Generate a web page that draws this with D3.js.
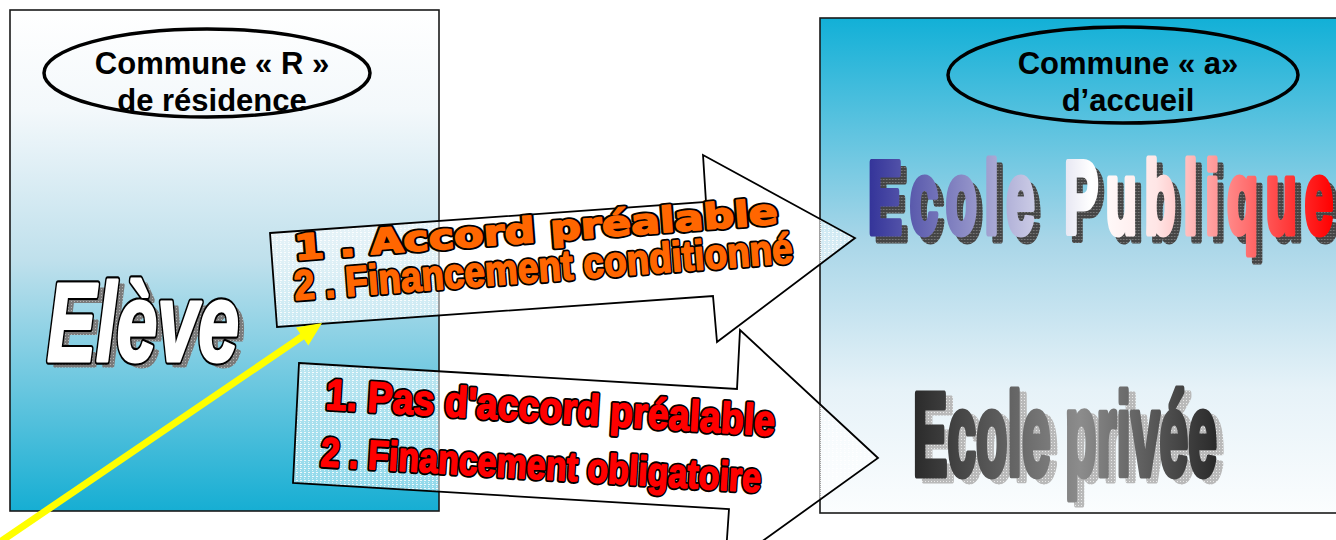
<!DOCTYPE html>
<html>
<head>
<meta charset="utf-8">
<script src="https://cdn.jsdelivr.net/npm/d3@7"></script>
<style>
  body { margin: 0; background: #fff; overflow: hidden; }
</style>
</head>
<body>
<div id="chart"></div>
<script>
// --- diagram content ---
const boxes = [
  { id: "left",  x: 10,  y: 10, w: 429, h: 501, stops: [[0, "#ffffff"], [0.2, "#f3f8fb"], [0.5, "#bfe0ec"], [1, "#16aed3"]] },
  { id: "right", x: 820, y: 18, w: 540, h: 495, stops: [[0, "#12b0d7"], [0.45, "#a9d6e8"], [0.75, "#e6f2f8"], [1, "#fbfdfe"]] }
];

const ellipses = [
  { cx: 207,  cy: 73, rx: 163, ry: 44, tx: 212,  lines: ["Commune « R »", "de résidence"] },
  { cx: 1123, cy: 75, rx: 175, ry: 48, tx: 1128, lines: ["Commune « a»", "d’accueil"] }
];
const ellipseBaselines = [74, 111];

// block arrows (outline points)
const arrowUp   = [[270, 233], [706, 202], [703, 155], [855, 238], [717, 342], [713, 296], [277, 327]];
const arrowDown = [[299, 363], [737, 389], [740, 330], [878, 458], [725, 568], [729, 509], [293, 483]];

const arrowTexts = [
  { x: 295, y: 260, angle: -4.3, text: "1 . Accord préalable",        len: 485, font: "DejaVu Sans",     size: 35, fill: "#ff6600" },
  { x: 295, y: 300, angle: -4.3, text: "2 . Financement conditionné", len: 500, font: "Liberation Sans", size: 42, fill: "#ff6600" },
  { x: 325, y: 409, angle: 3.4,  text: "1. Pas d'accord préalable",   len: 450, font: "Liberation Sans", size: 43, fill: "#ff0000" },
  { x: 320, y: 466, angle: 3.4,  text: "2 . Financement obligatoire", len: 441, font: "Liberation Sans", size: 41, fill: "#ff0000" }
];

const yellowStart = [-6, 546];
const yellowTip = [322, 323];

const publicStops = [[0, "#333399"], [0.48, "#ffffff"], [0.62, "#ffe6e6"], [1, "#ff0000"]];
const priveeStops = [[0, "#2a2a2a"], [0.55, "#8c8c8c"], [1, "#2a2a2a"]];

// --- drawing ---
const width = 1336, height = 540;
const svg = d3.select("#chart").append("svg")
  .attr("width", width)
  .attr("height", height);

const defs = svg.append("defs");

function addGradient(id, stops, vertical) {
  const g = defs.append("linearGradient").attr("id", id)
    .attr("x1", 0).attr("y1", 0)
    .attr("x2", vertical ? 0 : 1).attr("y2", vertical ? 1 : 0);
  g.selectAll("stop").data(stops).join("stop")
    .attr("offset", d => d[0])
    .attr("stop-color", d => d[1]);
}

function addDots(id, base, dot, size) {
  const p = defs.append("pattern").attr("id", id)
    .attr("width", size).attr("height", size)
    .attr("patternUnits", "userSpaceOnUse");
  p.append("rect").attr("width", size).attr("height", size).attr("fill", base);
  p.append("rect").attr("width", 1).attr("height", 1).attr("fill", dot);
}

boxes.forEach(b => addGradient("grad-" + b.id, b.stops, true));
addGradient("grad-public", publicStops, false);
addGradient("grad-privee", priveeStops, false);
addDots("dots-dark", "#454545", "#9a9a9a", 3);
addDots("dots-mid", "#7a7a7a", "#b5b5b5", 3);
addDots("dots-light", "#b9b9b9", "#e8e8e8", 3);

// translucent dotted fill for the block arrows
const ap = defs.append("pattern").attr("id", "arrow-fill")
  .attr("width", 4).attr("height", 4)
  .attr("patternUnits", "userSpaceOnUse");
ap.append("rect").attr("width", 4).attr("height", 4).attr("fill", "rgba(255,255,255,0.5)");
ap.append("rect").attr("width", 2).attr("height", 1).attr("fill", "rgba(255,255,255,0.85)");
ap.append("rect").attr("y", 2).attr("width", 1).attr("height", 1).attr("fill", "rgba(255,255,255,0.7)");

// boxes
svg.selectAll(".box").data(boxes).join("rect")
  .attr("class", "box")
  .attr("x", d => d.x).attr("y", d => d.y)
  .attr("width", d => d.w).attr("height", d => d.h)
  .attr("fill", d => `url(#grad-${d.id})`)
  .attr("stroke", "#1a1a1a")
  .attr("stroke-width", 1.6);

// ellipses with labels
ellipses.forEach(e => {
  svg.append("ellipse")
    .attr("cx", e.cx).attr("cy", e.cy)
    .attr("rx", e.rx).attr("ry", e.ry)
    .attr("fill", "none")
    .attr("stroke", "#000")
    .attr("stroke-width", 3.5);
  svg.selectAll(null).data(e.lines).join("text")
    .attr("x", e.tx)
    .attr("y", (d, i) => ellipseBaselines[i])
    .attr("text-anchor", "middle")
    .style("font-family", "Liberation Sans, Arial, sans-serif")
    .style("font-weight", "bold")
    .style("font-size", "31px")
    .attr("fill", "#000")
    .text(d => d);
});

// heavy outlined text: a thick dark stroke under, then the fill thickened with its own stroke
function heavyText(g, opts) {
  const layers = [
    { fill: opts.shadow, stroke: opts.shadow, sw: opts.inner, dx: opts.sdx || 0, dy: opts.sdy || 0, skip: !opts.shadow },
    { fill: opts.outline, stroke: opts.outline, sw: opts.inner + opts.outlineW * 2, dx: 0, dy: 0, skip: !opts.outline },
    { fill: opts.fill, stroke: opts.fill, sw: opts.inner, dx: 0, dy: 0 }
  ].filter(l => !l.skip);
  layers.forEach(l => {
    const t = g.append("text")
      .attr("x", l.dx).attr("y", l.dy)
      .style("font-family", opts.font + ", sans-serif")
      .style("font-weight", "bold")
      .style("font-size", opts.size + "px")
      .attr("fill", l.fill)
      .attr("stroke", l.stroke)
      .attr("stroke-width", l.sw)
      .attr("stroke-linejoin", "round")
      .text(opts.text);
    if (opts.italic) t.style("font-style", "italic");
    if (opts.len) t.attr("textLength", opts.len).attr("lengthAdjust", opts.adjust || "spacingAndGlyphs");
  });
}

// "Elève"
heavyText(svg.append("g").attr("transform", "translate(47,361)"), {
  text: "Elève", font: "Liberation Sans", size: 112, italic: true, len: 192,
  fill: "#fff", inner: 3, outline: "#000", outlineW: 2.2,
  shadow: "url(#dots-mid)", sdx: 6, sdy: 5
});

// block arrows
const line = d3.line().curve(d3.curveLinearClosed);
svg.selectAll(".block-arrow").data([arrowUp, arrowDown]).join("path")
  .attr("class", "block-arrow")
  .attr("d", d => line(d))
  .attr("fill", "url(#arrow-fill)")
  .attr("stroke", "#000")
  .attr("stroke-width", 1.8)
  .attr("stroke-linejoin", "miter");

// arrow texts
arrowTexts.forEach(d => {
  heavyText(svg.append("g").attr("transform", `translate(${d.x},${d.y}) rotate(${d.angle})`), {
    text: d.text, font: d.font, size: d.size, len: d.len,
    fill: d.fill, inner: 1.6, outline: "#000", outlineW: 1.8
  });
});

// "Ecole Publique"
heavyText(svg.append("g").attr("transform", "translate(868,233) scale(0.5,1)"), {
  text: "Ecole Publique", font: "Liberation Sans", size: 102, len: 930, adjust: "spacing",
  fill: "url(#grad-public)", inner: 7,
  shadow: "url(#dots-dark)", sdx: 12, sdy: 7
});

// "Ecole privée"
heavyText(svg.append("g").attr("transform", "translate(913,475)"), {
  text: "Ecole privée", font: "Liberation Sans", size: 116, len: 304,
  fill: "url(#grad-privee)", inner: 7,
  shadow: "url(#dots-light)", sdx: 7, sdy: 5
});

// yellow pointer
const dx = yellowTip[0] - yellowStart[0], dy = yellowTip[1] - yellowStart[1];
const len = Math.hypot(dx, dy), ux = dx / len, uy = dy / len;
const headLen = 24, headHalf = 11;
const base = [yellowTip[0] - ux * headLen, yellowTip[1] - uy * headLen];
svg.append("line")
  .attr("x1", yellowStart[0]).attr("y1", yellowStart[1])
  .attr("x2", base[0] + ux * 2).attr("y2", base[1] + uy * 2)
  .attr("stroke", "#ffff00")
  .attr("stroke-width", 7);
svg.append("path")
  .attr("d", line([
    yellowTip,
    [base[0] - uy * headHalf, base[1] + ux * headHalf],
    [base[0] + uy * headHalf, base[1] - ux * headHalf]
  ]))
  .attr("fill", "#ffff00");
</script>
</body>
</html>
